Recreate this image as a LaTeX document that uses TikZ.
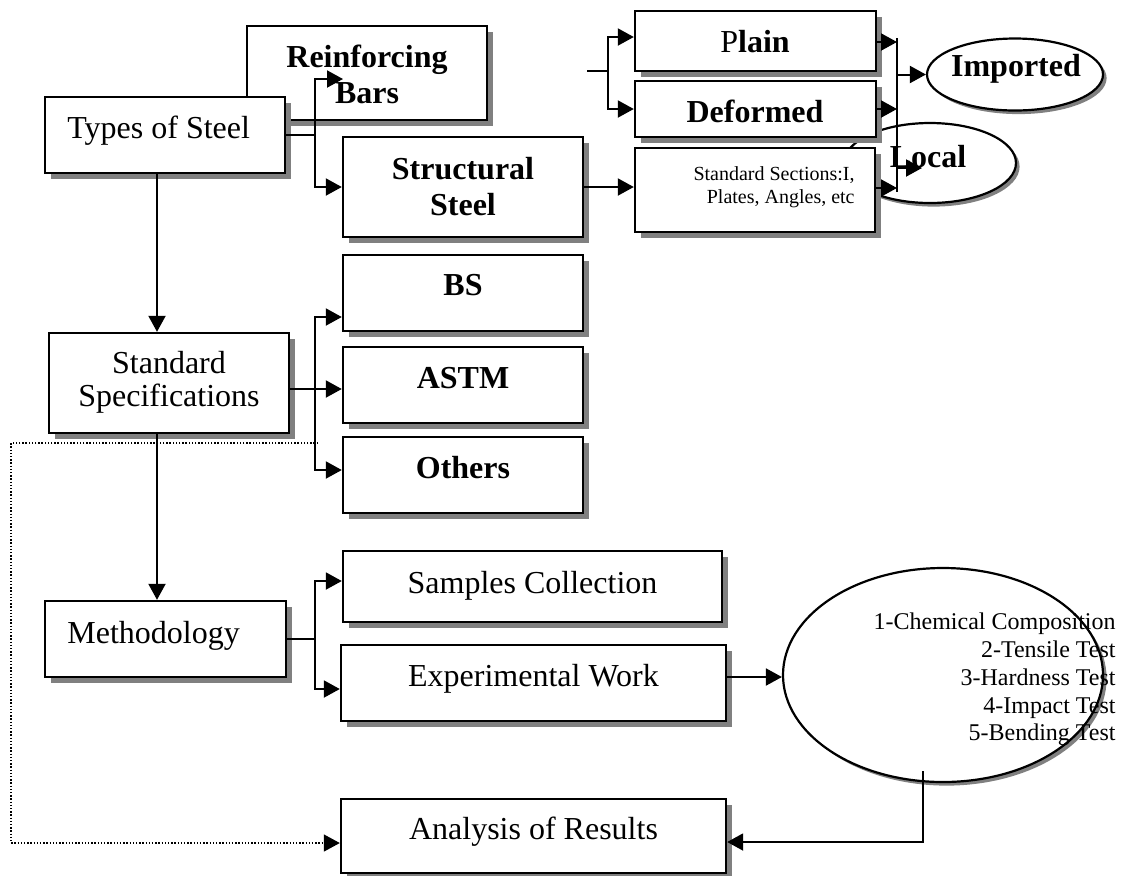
\documentclass[tikz,border=0pt]{standalone}
\usepackage{fontspec}
\setmainfont{Liberation Serif}
\usetikzlibrary{shadows,arrows.meta,shapes.geometric}
\tikzset{
 box/.style={draw,line width=1.2pt,fill=white,inner sep=0pt,
   drop shadow={shadow xshift=3pt,shadow yshift=-3pt,fill=black!50,opacity=1}},
 oval/.style={ellipse,draw,line width=1.1pt,fill=white,inner sep=0pt,
   drop shadow={shadow xshift=1.8pt,shadow yshift=-1.8pt,fill=black!50,opacity=1}},
 sz/.style 2 args={minimum width=#1*0.5pt,minimum height=#2*0.5pt},
 txt/.style={inner sep=0pt,font=\fontsize{16}{19}\selectfont},
 btxt/.style={inner sep=0pt,font=\fontsize{16}{19}\selectfont\bfseries},
 stxt/.style={inner sep=0pt,font=\fontsize{10}{12}\selectfont},
 ttxt/.style={inner sep=0pt,font=\fontsize{12}{14}\selectfont},
 conn/.style={line width=1pt},
 arr/.style={line width=1pt,-{Triangle[length=8pt,width=8.5pt]}},
 dotarr/.style={line width=0.7pt,dash pattern=on 0.7pt off 0.9pt,-{Triangle[length=8pt,width=8.5pt]}},
}
\begin{document}
\begin{tikzpicture}[x=0.5pt,y=-0.5pt]
\useasboundingbox (0,0) rectangle (1124,875);

% ---------- boxes and ovals ----------
\node[box,sz={240}{94}] (reinf) at (367,73) {};
\node[box,sz={240}{76}] (types) at (165,135) {};
\node[box,sz={240}{100}] (struct) at (463,187) {};
\node[oval,sz={172}{80}] (local) at (930,163) {};
\node[box,sz={241}{60}] (plain) at (755.5,41) {};
\node[box,sz={241}{56}] (deformed) at (755.5,109) {};
\node[box,sz={240}{84}] (stdsec) at (755,190) {};
\node[oval,sz={176}{72}] (imported) at (1015,74.5) {};
\node[box,sz={240}{100}] (stdspec) at (169,383) {};
\node[box,sz={240}{76}] (bs) at (463,293) {};
\node[box,sz={240}{76}] (astm) at (463,385) {};
\node[box,sz={240}{76}] (others) at (463,475) {};
\node[box,sz={241}{76}] (meth) at (165.5,639) {};
\node[box,sz={379}{71}] (samples) at (532.5,586.5) {};
\node[box,sz={385}{76}] (exper) at (533.5,683) {};
\node[oval,sz={320}{214}] (tests) at (943,675) {};
\node[box,sz={385}{74}] (analysis) at (533.5,836) {};

% ---------- texts ----------
\node[btxt,anchor=base] (reinfA) at (367,67) {Reinforcing};
\node[btxt,anchor=base] (reinfB) at (367,103) {Bars};
\node[txt,anchor=base west] (typesT) at (67,138) {Types of Steel};
\node[btxt,anchor=base] (structA) at (463,179) {Structural};
\node[btxt,anchor=base] (structB) at (463,215) {Steel};
\node[btxt,anchor=base] (plainT) at (755,52) {\mdseries P\bfseries lain};
\node[btxt,anchor=base] (deformedT) at (755,122) {Deformed};
\node[stxt,anchor=base east] (stdsecA) at (855,180) {Standard Sections:I,};
\node[stxt,anchor=base east] (stdsecB) at (855,203) {Plates, Angles, etc};
\node[btxt,anchor=base] (importedT) at (1016,76) {Imported};
\node[btxt,anchor=base] (localT) at (928,167) {Local};
\node[txt,anchor=base] (stdspecA) at (169,373) {Standard};
\node[txt,anchor=base] (stdspecB) at (169,406) {Specifications};
\node[btxt,anchor=base] (bsT) at (463,295) {BS};
\node[btxt,anchor=base] (astmT) at (463,388) {ASTM};
\node[btxt,anchor=base] (othersT) at (463,478) {Others};
\node[txt,anchor=base west] (methT) at (67,643) {Methodology};
\node[txt,anchor=base] (samplesT) at (532.5,593) {Samples Collection};
\node[txt,anchor=base] (experT) at (533.5,686) {Experimental Work};
\node[txt,anchor=base] (analysisT) at (533.5,839) {Analysis of Results};
\node[ttxt,anchor=base east] (t1) at (1116,629) {1-Chemical Composition};
\node[ttxt,anchor=base east] (t2) at (1116,657) {2-Tensile Test};
\node[ttxt,anchor=base east] (t3) at (1116,685) {3-Hardness Test};
\node[ttxt,anchor=base east] (t4) at (1116,713) {4-Impact Test};
\node[ttxt,anchor=base east] (t5) at (1116,740) {5-Bending Test};

% ---------- helper coordinates ----------
\coordinate (bx) at (315,0);
\coordinate (vx) at (157,0);
\coordinate (rtip) at (343,79);
\coordinate (stub) at (587,71);
\coordinate (pj) at (608,71);
\coordinate (vtop) at (897,38);
\coordinate (vbot) at (897,192);
\coordinate (lj) at (897,168);
\coordinate (ltip) at (922,168);
\coordinate (d1) at (318,443);
\coordinate (d2) at (11,443);
\coordinate (d3) at (11,843);
\coordinate (tx) at (923,771);
\path ([yshift=-3pt]stdspec.east) coordinate (ss);
\path ([yshift=3pt]exper.east) coordinate (ee);

% ---------- connectors ----------
\draw[arr] (types.east) -- (types.east -| bx) |- (rtip);
\draw[arr] (types.east -| bx) |- (struct.west);
\draw[arr] (struct.east) -- (struct.east -| stdsec.west);
\draw[conn] (stub) -- (pj);
\draw[arr] (pj) |- ([yshift=2pt]plain.west);
\draw[arr] (pj) |- (deformed.west);
\draw[conn] (vtop) -- (vbot);
\draw[arr] ([yshift=-0.5pt]plain.east) -- ([yshift=-0.5pt]plain.east -| vtop);
\draw[arr] (deformed.east) -- (deformed.east -| vtop);
\draw[arr] ([yshift=1pt]stdsec.east) -- ([yshift=1pt]stdsec.east -| vtop);
\draw[arr] (imported.west -| vtop) -- (imported.west);
\draw[arr] (lj) -- (ltip);
\draw[arr] (types.south -| vx) -- (stdspec.north -| vx);
\draw[arr] (ss) -- (ss -| astm.west);
\draw[arr] (ss -| bx) |- ([yshift=-12pt]bs.west);
\draw[arr] (ss -| bx) |- ([yshift=2.5pt]others.west);
\draw[dotarr] (d1) -- (d2) -- (d3) -- (d3 -| analysis.west);
\draw[arr] (stdspec.south -| vx) -- (meth.north -| vx);
\draw[conn] (meth.east) -- (meth.east -| bx);
\draw[arr] (meth.east -| bx) |- ([yshift=2.75pt]samples.west);
\draw[arr] (meth.east -| bx) |- ([yshift=-3pt]exper.west);
\draw[arr] (ee) -- (ee -| tests.west);
\draw[arr] (tx) |- ([yshift=-3pt]analysis.east);
\end{tikzpicture}
\end{document}
